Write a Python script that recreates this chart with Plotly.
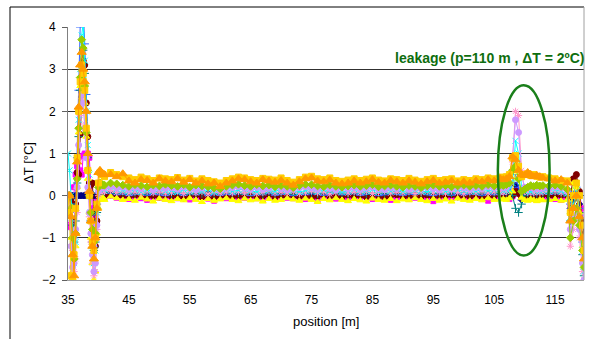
import plotly.graph_objects as go

positions = [35.0, 35.25, 35.5, 35.75, 36.0, 36.25, 36.5, 36.75, 37.0, 37.25, 37.5, 37.75, 38.0,
             38.25, 38.5, 38.75, 39.0, 39.25, 39.5, 39.75, 40.0, 40.25, 40.5, 40.75, 41.0,
             42, 43, 44, 45, 46, 47, 48, 49, 50, 51,
             52, 53, 54, 55, 56, 57, 58, 59, 60, 61,
             62, 63, 64, 65, 66, 67, 68, 69, 70, 71,
             72, 73, 74, 75, 76, 77, 78, 79, 80, 81,
             82, 83, 84, 85, 86, 87, 88, 89, 90, 91,
             92, 93, 94, 95, 96, 97, 98, 99, 100, 101,
             102, 103, 104, 105, 106,
             106.5, 107, 107.5, 108, 108.5, 109, 109.5, 110, 110.5, 111, 111.5, 112, 112.5, 113,
             114, 115, 116, 117,
             117.5, 118, 118.5, 119, 119.5, 119.75]

s_navy = [0, 0, 0, 0, 0, 0, 0, 0, 0, 0, 0, 0, 0, 0, 0, 0, 0, 0, 0, 0.0, 0.05, 0.1, 0.08, 0.05, 0.05,
          0.05, 0.03, 0.0, 0.02, 0.04, -0.02, 0.03, 0.01, 0.05, 0.0,
          0.02, 0.04, -0.01, 0.03, 0.0, 0.02, 0.05, 0.01, -0.03, 0.02,
          0.04, 0.0, 0.03, 0.05, 0.01, -0.02, 0.03, 0.0, 0.04, 0.02,
          -0.01, 0.03, 0.05, 0.02, 0.0, 0.04, 0.01, -0.02, 0.03, 0.05,
          0.02, 0.0, 0.04, 0.01, 0.03, -0.01, 0.02, 0.05, 0.0, 0.03,
          0.01, 0.04, 0.02, -0.02, 0.03, 0.0, 0.05, 0.02, 0.01, 0.03,
          0.0, 0.04, 0.02, 0.05, 0.03,
          0.03, 0.05, 0.02, 0.1, 0.25, 0.1, -0.1, 0.05, 0.02, 0.04, 0.03, 0.05, 0.02, 0.04,
          0.03, 0.05, 0.02, 0.0,
          -0.3, -0.1, 0.0, -0.2, -0.8, -1.2]

s_magenta = [-0.7, -0.7, -0.75, -0.3, 0.2, 0.5, 0.7, 0.9, 0.6, 0.5, 0.95, 1.0, 0.95, 1.0, 0.9, 0.3, -0.3, -0.9, -0.5, -0.1, 0.0, -0.05, -0.05, 0.0, -0.05,
             0.0, -0.05, -0.02, -0.08, -0.04, -0.06, -0.1, -0.03, -0.05, -0.07,
             -0.02, -0.06, -0.04, -0.09, -0.05, -0.03, -0.07, -0.12, -0.04, -0.06,
             -0.03, -0.08, -0.05, -0.02, -0.06, -0.1, -0.04, -0.07, -0.03, -0.05,
             -0.06, -0.02, -0.08, -0.04, -0.12, -0.05, -0.03, -0.07, -0.05, -0.09,
             -0.04, -0.06, -0.02, -0.08, -0.05, -0.03, -0.1, -0.06, -0.04, -0.07,
             -0.05, -0.03, -0.08, -0.13, -0.06, -0.04, -0.07, -0.03, -0.05, -0.08,
             -0.04, -0.06, -0.12, -0.05, -0.03,
             -0.05, -0.03, -0.08, -0.02, 0.05, 0.15, 0.1, 0.0, -0.06, -0.04, -0.08, -0.1, -0.05, -0.07,
             -0.06, -0.08, -0.1, -0.05,
             -0.2, 0.0, 0.05, 0.0, -0.3, -0.9]

s_yellow = [0.0, -0.2, -1.0, -1.8, -2.0, -1.2, 0.2, 1.5, 2.6, 3.0, 2.8, 2.2, 1.4, 0.4, -0.4, -1.0, -1.6, -2.0, -1.8, -0.9, -0.3, -0.1, -0.05, -0.05, -0.1,
            -0.02, -0.06, -0.1, -0.08, -0.12, -0.05, -0.09, -0.14, -0.07, -0.1,
            -0.13, -0.08, -0.11, -0.06, -0.1, -0.15, -0.08, -0.12, -0.09, -0.06,
            -0.1, -0.13, -0.07, -0.11, -0.09, -0.14, -0.08, -0.12, -0.1, -0.06,
            -0.09, -0.12, -0.07, -0.1, -0.15, -0.08, -0.11, -0.06, -0.1, -0.13,
            -0.08, -0.11, -0.14, -0.07, -0.1, -0.12, -0.08, -0.13, -0.09, -0.11,
            -0.06, -0.1, -0.13, -0.08, -0.12, -0.09, -0.14, -0.07, -0.1, -0.12,
            -0.08, -0.11, -0.06, -0.1, -0.09,
            -0.08, -0.1, -0.06, 0.1, 0.6, 0.4, -0.05, -0.1, -0.12, -0.08, -0.1, -0.13, -0.09, -0.11,
            -0.1, -0.08, -0.12, -0.1,
            -0.4, 0.3, 0.2, -0.4, -1.2, -1.6]

s_cyan = [1.0, 0.6, 0.0, -0.9, -1.6, -1.1, 0.3, 1.8, 3.0, 3.8, 4.1, 3.2, 2.0, 1.2, 0.5, -0.4, -1.2, -1.6, -1.3, -0.4, 0.2, 0.25, 0.2, 0.15, 0.15,
          0.2, 0.15, 0.12, 0.1, 0.14, 0.09, 0.13, 0.11, 0.16, 0.1,
          0.12, 0.08, 0.14, 0.11, 0.13, 0.1, 0.15, 0.09, 0.12, 0.14,
          0.1, 0.13, 0.16, 0.11, 0.09, 0.14, 0.12, 0.1, 0.15, 0.11,
          0.13, 0.09, 0.12, 0.16, 0.1, 0.14, 0.11, 0.13, 0.08, 0.12,
          0.15, 0.1, 0.12, 0.14, 0.09, 0.13, 0.11, 0.16, 0.1, 0.12,
          0.14, 0.11, 0.09, 0.13, 0.15, 0.1, 0.12, 0.14, 0.11, 0.13,
          0.1, 0.15, 0.12, 0.14, 0.16,
          0.12, 0.14, 0.15, 0.3, 1.3, 1.0, 0.2, 0.12, 0.14, 0.1, 0.13, 0.15, 0.11, 0.12,
          0.12, 0.14, 0.1, 0.05,
          -0.5, -0.2, 0.1, -0.5, -1.3, -1.8]

s_maroon = [0.0, 0.0, -0.1, -0.6, -0.9, -0.2, 0.55, 0.5, 1.45, 2.4, 3.2, 3.1, 2.2, 1.4, 0.3, 0.25, 0.3, -0.4, -1.2, -0.6, 0.0, 0.02, 0.0, 0.0, 0.0,
            0.02, -0.01, 0.0, -0.04, 0.01, -0.02, -0.05, 0.0, -0.03, 0.01,
            -0.02, 0.0, -0.06, -0.01, 0.02, -0.03, 0.0, -0.05, -0.02, 0.01,
            -0.04, 0.0, -0.02, 0.01, -0.03, -0.01, 0.02, -0.04, 0.0, -0.02,
            0.01, -0.03, 0.0, -0.05, -0.01, 0.02, -0.02, 0.0, -0.04, 0.01,
            -0.02, 0.0, -0.03, 0.01, -0.01, -0.05, 0.0, 0.02, -0.03, -0.01,
            0.0, -0.02, 0.01, -0.04, 0.0, -0.01, 0.02, -0.03, 0.0, -0.02,
            0.01, -0.03, 0.0, -0.01, 0.02,
            0.0, 0.02, -0.02, 0.0, 0.1, 0.05, -0.05, 0.05, 0.0, -0.02, 0.01, -0.03, 0.0, 0.02,
            0.0, -0.02, 0.01, 0.0,
            0.0, 0.4, 0.5, 0.1, -0.6, -1.0]

s_teal = [0.0, 0.0, -0.2, -0.7, -1.1, -0.6, 0.3, 1.4, 2.5, 3.1, 3.45, 2.9, 2.0, 0.9, 0.1, -0.6, -1.0, -1.3, -1.1, -0.4, 0.05, 0.1, 0.08, 0.06, 0.06,
          0.1, 0.05, 0.08, 0.04, 0.07, 0.03, 0.06, 0.09, 0.05, 0.07,
          0.04, 0.08, 0.06, 0.03, 0.07, 0.05, 0.09, 0.04, 0.06, 0.08,
          0.05, 0.07, 0.03, 0.08, 0.06, 0.04, 0.09, 0.05, 0.07, 0.06,
          0.03, 0.08, 0.05, 0.07, 0.04, 0.06, 0.09, 0.05, 0.07, 0.04,
          0.06, 0.08, 0.05, 0.03, 0.07, 0.06, 0.04, 0.09, 0.05, 0.07,
          0.06, 0.04, 0.08, 0.05, 0.07, 0.03, 0.06, 0.08, 0.05, 0.07,
          0.04, 0.06, 0.08, 0.05, 0.07,
          0.06, 0.05, 0.08, 0.0, -0.3, -0.4, -0.2, 0.0, 0.05, 0.07, 0.06, 0.04, 0.08, 0.05,
          0.06, 0.05, 0.07, 0.0,
          -0.6, -0.3, 0.0, -0.4, -1.4, -1.9]

s_lavender = [0.0, -0.3, -1.2, -1.7, -1.6, -0.8, 0.2, 1.2, 2.1, 2.4, 2.2, 1.6, 0.9, 0.2, -0.4, -0.9, -1.4, -1.8, -1.6, -0.7, 0.1, 0.2, 0.18, 0.2, 0.18,
              0.22, 0.18, 0.2, 0.15, 0.19, 0.16, 0.2, 0.14, 0.18, 0.17,
              0.19, 0.15, 0.2, 0.17, 0.14, 0.18, 0.21, 0.16, 0.13, 0.17,
              0.19, 0.22, 0.18, 0.16, 0.2, 0.15, 0.18, 0.21, 0.17, 0.14,
              0.16, 0.19, 0.21, 0.18, 0.15, 0.2, 0.17, 0.14, 0.18, 0.16,
              0.19, 0.15, 0.18, 0.2, 0.16, 0.14, 0.19, 0.17, 0.21, 0.15,
              0.18, 0.16, 0.2, 0.17, 0.14, 0.19, 0.16, 0.2, 0.18, 0.15,
              0.19, 0.17, 0.21, 0.18, 0.2,
              0.18, 0.2, 0.3, 0.9, 1.8, 1.5, 0.5, 0.2, 0.18, 0.2, 0.17, 0.19, 0.16, 0.18,
              0.17, 0.2, 0.18, 0.1,
              -0.8, -0.5, -0.3, -0.8, -1.6, -2.0]

s_orange = [0.0, 0.0, -0.5, -1.4, -1.9, -0.9, 0.8, 2.1, 3.1, 3.4, 3.0, 2.7, 2.0, 1.0, 0.1, -0.6, -1.2, -1.5, -1.0, -0.3, 0.55, 0.6, 0.55, 0.5, 0.5,
            0.5, 0.45, 0.52, 0.35, 0.3, 0.38, 0.36, 0.3, 0.4, 0.35,
            0.33, 0.4, 0.32, 0.38, 0.3, 0.35, 0.28, 0.3, 0.22, 0.3,
            0.35, 0.4, 0.38, 0.33, 0.3, 0.38, 0.35, 0.32, 0.36, 0.3,
            0.25, 0.33, 0.4, 0.42, 0.35, 0.33, 0.37, 0.3, 0.28, 0.3,
            0.35, 0.3, 0.33, 0.38, 0.32, 0.3, 0.36, 0.33, 0.3, 0.35,
            0.32, 0.28, 0.33, 0.36, 0.3, 0.32, 0.35, 0.3, 0.33, 0.3,
            0.35, 0.33, 0.38, 0.35, 0.4,
            0.38, 0.4, 0.45, 0.92, 0.85, 0.6, 0.5, 0.48, 0.55, 0.5, 0.45, 0.48, 0.45, 0.42,
            0.4, 0.35, 0.38, 0.3,
            -0.6, -0.3, 0.0, -0.5, -1.0, -1.5]

s_gold = [0.0, -0.4, -1.9, -2.0, -1.4, -0.3, 0.9, 2.0, 2.7, 3.1, 2.9, 2.5, 1.6, 0.6, 0.0, -0.6, -1.1, -1.3, -1.0, -0.2, 0.3, 0.55, 0.5, 0.5, 0.45,
          0.55, 0.5, 0.45, 0.42, 0.38, 0.44, 0.4, 0.36, 0.42, 0.4,
          0.38, 0.43, 0.37, 0.41, 0.35, 0.4, 0.36, 0.33, 0.3, 0.36,
          0.4, 0.44, 0.42, 0.38, 0.36, 0.41, 0.39, 0.37, 0.42, 0.36,
          0.32, 0.38, 0.44, 0.46, 0.4, 0.38, 0.42, 0.36, 0.34, 0.37,
          0.4, 0.36, 0.39, 0.42, 0.37, 0.35, 0.4, 0.38, 0.36, 0.41,
          0.37, 0.34, 0.38, 0.41, 0.36, 0.38, 0.4, 0.35, 0.38, 0.36,
          0.4, 0.38, 0.42, 0.4, 0.44,
          0.42, 0.45, 0.5, 0.9, 0.95, 0.7, 0.45, 0.5, 0.52, 0.48, 0.5, 0.46, 0.44, 0.45,
          0.42, 0.4, 0.36, 0.35,
          -0.4, 0.0, 0.3, 0.0, -0.7, -1.3]

s_yellowgreen = [0.0, 0.0, -0.3, -1.0, -1.5, -0.9, 0.4, 1.6, 2.8, 3.7, 3.5, 2.6, 1.5, 0.6, 0.0, -0.4, -0.8, -1.1, -0.9, -0.3, 0.2, 0.3, 0.28, 0.25, 0.25,
                 0.3, 0.28, 0.25, 0.22, 0.26, 0.24, 0.21, 0.25, 0.23, 0.27,
                 0.24, 0.22, 0.26, 0.2, 0.25, 0.23, 0.21, 0.18, 0.16, 0.22,
                 0.25, 0.27, 0.24, 0.22, 0.26, 0.23, 0.25, 0.21, 0.24, 0.22,
                 0.19, 0.24, 0.27, 0.26, 0.23, 0.21, 0.25, 0.22, 0.2, 0.23,
                 0.25, 0.22, 0.24, 0.26, 0.21, 0.23, 0.25, 0.22, 0.2, 0.24,
                 0.22, 0.19, 0.23, 0.25, 0.22, 0.24, 0.21, 0.23, 0.25, 0.22,
                 0.24, 0.22, 0.26, 0.23, 0.25,
                 0.24, 0.26, 0.3, 0.6, 0.7, 0.4, 0.1, 0.15, 0.2, 0.24, 0.22, 0.25, 0.23, 0.24,
                 0.23, 0.25, 0.22, 0.15,
                 -1.0, -0.6, -0.3, -0.7, -1.3, -1.7]

s_pink = [0.0, 0.0, -0.6, -1.3, -1.8, -1.5, -0.4, 0.8, 1.9, 2.3, 2.2, 1.7, 0.9, 0.1, -0.5, -1.1, -1.6, -1.9, -1.8, -0.8, 0.0, 0.1, 0.12, 0.1, 0.1,
          0.12, 0.08, 0.1, 0.06, 0.09, 0.05, 0.1, 0.07, 0.09, 0.06,
          0.08, 0.11, 0.05, 0.09, 0.07, 0.1, 0.04, 0.08, 0.06, 0.09,
          0.07, 0.1, 0.06, 0.09, 0.05, 0.08, 0.11, 0.07, 0.09, 0.06,
          0.1, 0.05, 0.08, 0.11, 0.07, 0.09, 0.04, 0.08, 0.1, 0.06,
          0.09, 0.07, 0.1, 0.05, 0.08, 0.11, 0.06, 0.09, 0.07, 0.1,
          0.05, 0.08, 0.1, 0.07, 0.09, 0.06, 0.11, 0.08, 0.05, 0.09,
          0.07, 0.1, 0.06, 0.09, 0.08,
          0.08, 0.1, 0.2, 0.8, 2.0, 1.9, 0.6, 0.1, 0.08, 0.09, 0.07, 0.1, 0.08, 0.09,
          0.08, 0.1, 0.07, 0.05,
          -1.2, -0.8, -0.4, -1.0, -1.8, -2.0]

s_blue = [0.0, 0.0, -0.2, -0.6, -1.0, -0.4, 0.9, 2.5, 4.0, 4.6, 4.4, 3.6, 2.4, 1.0, 0.1, -0.6, -1.1, -1.2, -0.8, -0.2, 0.05, 0.06, 0.05, 0.05, 0.05,
          0.06, 0.02, 0.04, 0.0, 0.03, 0.05, 0.01, 0.04, 0.02, 0.0,
          0.03, 0.05, 0.01, 0.04, 0.02, 0.06, 0.0, 0.03, 0.01, 0.04,
          0.02, 0.05, 0.03, 0.0, 0.04, 0.02, 0.06, 0.01, 0.03, 0.05,
          0.0, 0.04, 0.02, 0.05, 0.03, 0.01, 0.04, 0.06, 0.02, 0.03,
          0.05, 0.01, 0.03, 0.04, 0.0, 0.02, 0.05, 0.03, 0.01, 0.04,
          0.03, 0.06, 0.02, 0.0, 0.04, 0.03, 0.01, 0.05, 0.02, 0.04,
          0.03, 0.01, 0.05, 0.02, 0.04,
          0.03, 0.05, 0.08, 0.3, 0.5, 0.2, -0.1, 0.04, 0.03, 0.05, 0.02, 0.04, 0.03, 0.05,
          0.03, 0.05, 0.04, 0.0,
          -0.2, 0.1, 0.2, -0.3, -1.1, -1.6]

# drawing order: dark series underneath, pale ones above, orange band on top
series = [
    ("s2", s_magenta, "#FF00FF", "square", 5),
    ("s1", s_navy, "#000080", "diamond", 5),
    ("s5", s_maroon, "#800000", "circle", 6),
    ("s9", s_blue, "#3366FF", "line-ew-open", 6),
    ("s6", s_teal, "#008080", "cross-thin-open", 6),
    ("s3", s_yellow, "#FFFF00", "triangle-up", 6),
    ("s8", s_pink, "#FF99CC", "asterisk-open", 6),
    ("s4", s_cyan, "#00FFFF", "x-thin-open", 6),
    ("s7", s_lavender, "#CC99FF", "circle", 6),
    ("s10", s_yellowgreen, "#99CC00", "diamond", 6),
    ("s12", s_gold, "#FFCC00", "square", 6),
    ("s11", s_orange, "#FF9900", "triangle-up", 8),
]

fig = go.Figure()
for name, vals, col, sym, size in series:
    fig.add_trace(go.Scatter(
        x=positions, y=vals, mode="lines+markers", name=name,
        line=dict(color=col, width=1),
        marker=dict(symbol=sym, size=size, color=col, line=dict(color=col, width=1)),
        showlegend=False, cliponaxis=True,
    ))

# leakage ellipse
fig.add_shape(type="circle", xref="x", yref="y", x0=105.6, x1=114.1, y0=-1.42, y1=2.62,
              line=dict(color="#1A7F1A", width=2.5))

# outer chart frame
fig.add_shape(type="line", xref="paper", yref="paper", x0=-0.1124, x1=-0.1124, y0=1.079, y1=-0.25,
              line=dict(color="#000000", width=1))
fig.add_shape(type="line", xref="paper", yref="paper", x0=-0.1124, x1=1.0, y0=1.079, y1=1.079,
              line=dict(color="#000000", width=1))
fig.add_shape(type="line", xref="paper", yref="paper", x0=1.0, x1=1.0, y0=1.079, y1=0,
              line=dict(color="#A0A0A0", width=1))

fig.add_annotation(text="<b>leakage (p=110 m , ΔT = 2ºC)</b>", xref="paper", yref="paper",
                   x=1.006, y=0.877, xanchor="right", yanchor="middle", showarrow=False,
                   font=dict(family="Liberation Sans, Arial", size=14, color="#0E6E0E"))
fig.add_annotation(text="ΔT [°C]", xref="paper", yref="paper", x=-0.078, y=0.462,
                   xanchor="center", yanchor="middle", textangle=-90, showarrow=False,
                   font=dict(family="Liberation Sans, Arial", size=13, color="#000000"))
fig.add_annotation(text="position [m]", xref="paper", yref="paper", x=0.5, y=-0.166,
                   xanchor="center", yanchor="middle", showarrow=False,
                   font=dict(family="Liberation Sans, Arial", size=13, color="#000000"))

fig.update_layout(
    width=595, height=339,
    margin=dict(l=68, r=11, t=27, b=59),
    paper_bgcolor="white", plot_bgcolor="white",
    font=dict(family="Liberation Sans, Arial", size=12, color="#000000"),
    xaxis=dict(range=[35, 119.75], tickvals=[35, 45, 55, 65, 75, 85, 95, 105, 115],
               showgrid=False, zeroline=False, showline=True, linecolor="#A0A0A0", linewidth=1,
               ticks="outside", ticklen=9, tickcolor="rgba(0,0,0,0)",
               tickfont=dict(size=12)),
    yaxis=dict(range=[-2, 4], dtick=1, showgrid=True, gridcolor="#303030", gridwidth=1,
               zeroline=False, showline=True, linecolor="#808080", linewidth=1,
               ticks="outside", ticklen=5, tickcolor="#606060",
               tickfont=dict(size=12), ticklabelstandoff=4),
)

fig.write_html("out.html")
